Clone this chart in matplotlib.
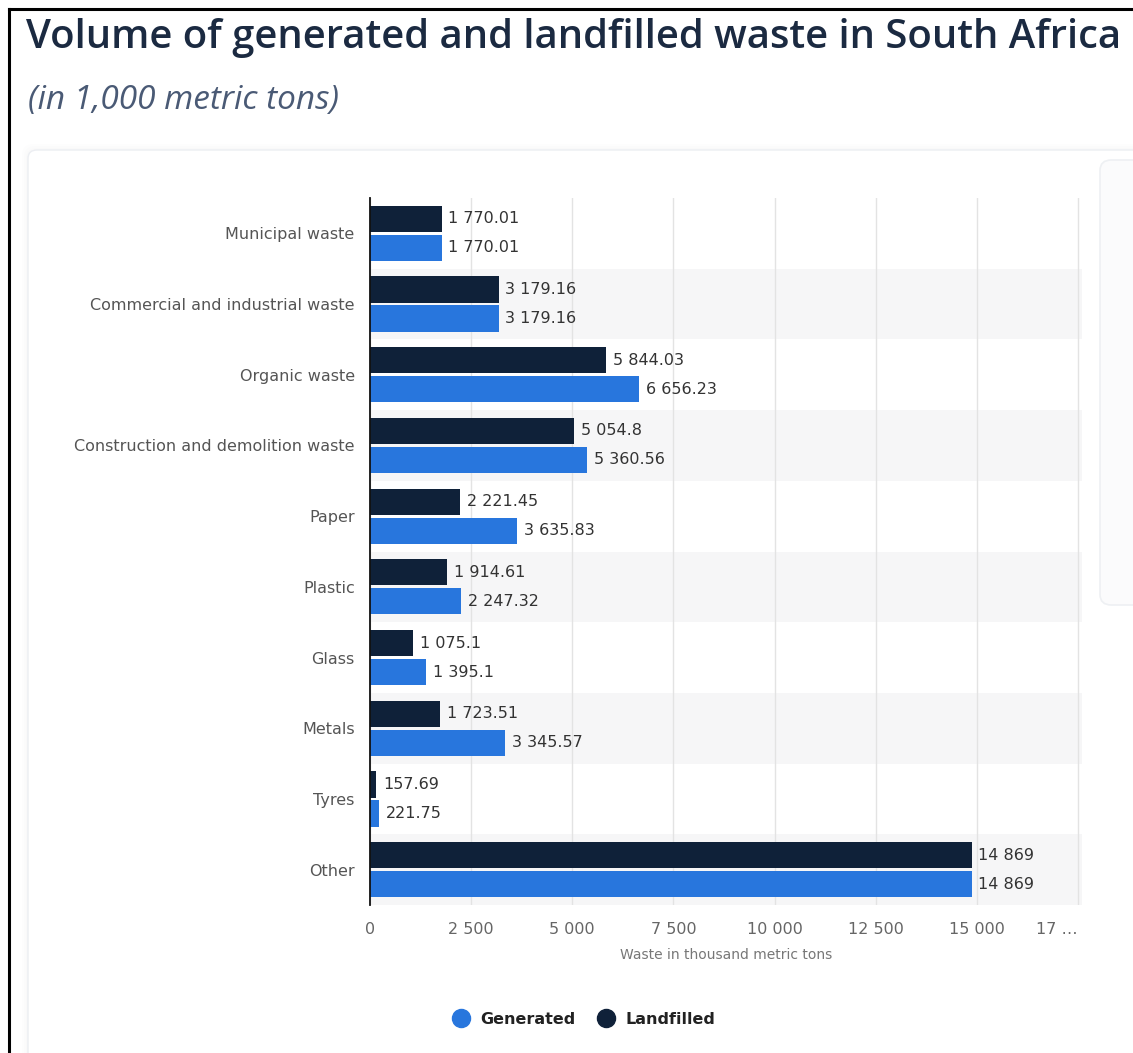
import matplotlib
matplotlib.use("Agg")
import matplotlib.pyplot as plt
from matplotlib.patches import FancyBboxPatch, Rectangle
from matplotlib.lines import Line2D

categories = ["Municipal waste", "Commercial and industrial waste", "Organic waste",
              "Construction and demolition waste", "Paper", "Plastic", "Glass",
              "Metals", "Tyres", "Other"]
landfilled = [1770.01, 3179.16, 5844.03, 5054.8, 2221.45, 1914.61, 1075.1, 1723.51, 157.69, 14869]
generated = [1770.01, 3179.16, 6656.23, 5360.56, 3635.83, 2247.32, 1395.1, 3345.57, 221.75, 14869]
xticks = [0, 2500, 5000, 7500, 10000, 12500, 15000, 17500]
xticklabels = ["0", "2 500", "5 000", "7 500", "10 000", "12 500", "15 000", "17 …"]

DARK = "#0f2139"
BLUE = "#2876dd"

def fmt(v):
    s = f"{v:,.2f}".rstrip("0").rstrip(".")
    return s.replace(",", " ")

W, H = 1133, 1053
fig = plt.figure(figsize=(W / 100, H / 100), dpi=100)
fig.patch.set_facecolor("white")

# page frame
fig.add_artist(Line2D([9 / W, 9 / W], [0, 1 - 9 / H], color="black", lw=2.2, transform=fig.transFigure, zorder=-1))
fig.add_artist(Line2D([9 / W, 1], [1 - 9 / H, 1 - 9 / H], color="black", lw=2.2, transform=fig.transFigure, zorder=-1))

# card shadow
for i, a in enumerate([0.05, 0.05, 0.06]):
    fig.add_artist(FancyBboxPatch(((28 - 6 + 2 * i) / W, -0.05), 1.2, (1053 - 150 + 6 - 2 * i) / H + 0.05,
                                  boxstyle="round,pad=0,rounding_size=0.01", transform=fig.transFigure,
                                  facecolor="#dde1e8", edgecolor="none", alpha=a, zorder=-3))
fig.add_artist(FancyBboxPatch((28 / W, -0.05), 1.2, (1053 - 150) / H + 0.05,
                              boxstyle="round,pad=0,rounding_size=0.008", transform=fig.transFigure,
                              facecolor="white", edgecolor="#eceef2", lw=1, zorder=-2))
# tooltip-like panel at right
fig.add_artist(FancyBboxPatch((1100 / W, 1 - 605 / H), 0.1, (605 - 160) / H,
                              boxstyle="round,pad=0,rounding_size=0.01", transform=fig.transFigure,
                              facecolor="#fbfbfc", edgecolor="#eef0f3", lw=1.2, zorder=-1))

fig.text(26 / W, 1 - 38 / H, "Volume of generated and landfilled waste in South Africa",
         fontsize=28.8, color="#1b2a41", family="Open Sans", fontweight="semibold",
         ha="left", va="center")
fig.text(28 / W, 1 - 100 / H, "(in 1,000 metric tons)", fontsize=24, color="#4a5a75",
         family="Open Sans", style="italic", ha="left", va="center")

ax = fig.add_axes([370 / W, 1 - 905 / H, (1082 - 370) / W, (905 - 198) / H])
ax.set_zorder(5)
ax.set_facecolor("none")
n = len(categories)
ys = list(range(n))
ax.set_ylim(n - 0.5, -0.5)
ax.set_xlim(0, 17600)

for i in ys:
    if i % 2 == 1:
        ax.axhspan(i - 0.5, i + 0.5, color="#f6f6f7", zorder=0, lw=0)

ax.set_xticks(xticks)
ax.set_xticklabels(xticklabels)
ax.grid(axis="x", color="#e3e3e3", lw=1, zorder=0.5)
ax.set_axisbelow(True)

off = 0.205
h = 0.37
ax.barh([y - off for y in ys], landfilled, height=h, color=DARK, zorder=2)
ax.barh([y + off for y in ys], generated, height=h, color=BLUE, zorder=2)
for y, v in zip(ys, landfilled):
    ax.text(v + 170, y - off, fmt(v), va="center", ha="left", fontsize=11.5, color="#333333",
            family="DejaVu Sans", zorder=3)
for y, v in zip(ys, generated):
    ax.text(v + 170, y + off, fmt(v), va="center", ha="left", fontsize=11.5, color="#333333",
            family="DejaVu Sans", zorder=3)

ax.set_yticks(ys)
ax.set_yticklabels(categories)
for lab in ax.get_yticklabels():
    lab.set_fontsize(11.5)
    lab.set_color("#555555")
    lab.set_family("DejaVu Sans")
xl = ax.get_xticklabels()
for lab in xl:
    lab.set_fontsize(11.5)
    lab.set_color("#666666")
    lab.set_family("DejaVu Sans")
xl[-1].set_horizontalalignment("right")
ax.tick_params(axis="y", length=0, pad=11)
ax.tick_params(axis="x", length=0, pad=12)

for s in ["top", "right", "bottom"]:
    ax.spines[s].set_visible(False)
ax.spines["left"].set_color("#111111")
ax.spines["left"].set_linewidth(1.3)

ax.set_xlabel("Waste in thousand metric tons", fontsize=10, color="#777777", labelpad=8,
              family="DejaVu Sans")

handles = [Line2D([], [], marker="o", ls="none", markersize=13, color=BLUE, label="Generated"),
           Line2D([], [], marker="o", ls="none", markersize=13, color=DARK, label="Landfilled")]
leg = fig.legend(handles=handles, loc="center", bbox_to_anchor=(580 / W, 1 - 1019 / H), ncol=2,
                 frameon=False, handletextpad=0.2, columnspacing=0.9,
                 prop={"family": "DejaVu Sans", "weight": "bold", "size": 11.5})
for t in leg.get_texts():
    t.set_color("#222222")

fig.savefig("out.png", dpi=100, facecolor="white")
